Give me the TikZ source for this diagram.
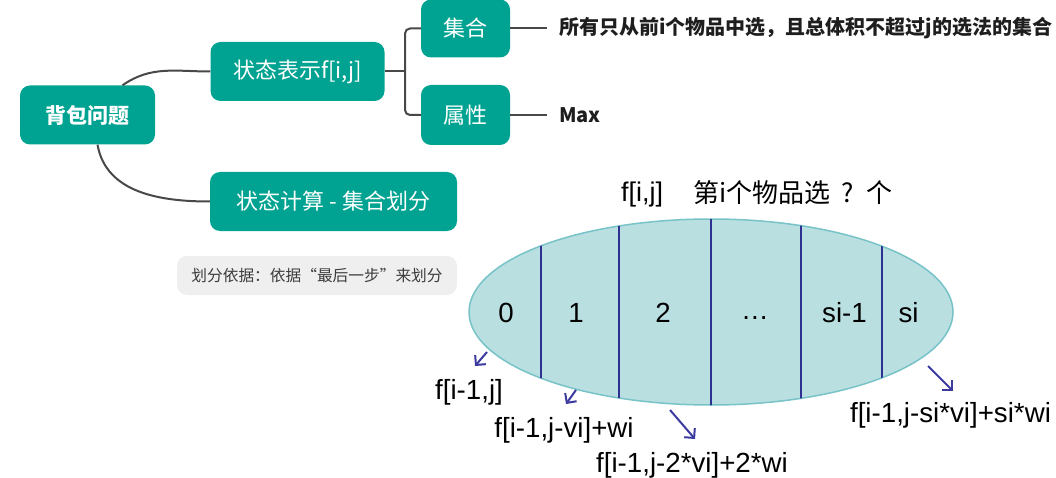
\documentclass[tikz,border=0pt]{standalone}
\usepackage{fontspec}
\setmainfont{Noto Sans CJK SC}
\newfontfamily\arialfont{Liberation Sans}
\usepackage{xcolor}
\usetikzlibrary{positioning, arrows.meta, shapes.geometric}
\definecolor{topicteal}{RGB}{0,163,145}
\definecolor{branchgray}{RGB}{72,72,72}
\definecolor{leafblack}{RGB}{30,30,30}
\definecolor{notegray}{RGB}{239,239,239}
\definecolor{notetext}{RGB}{60,60,60}
\definecolor{setfill}{RGB}{185,223,225}
\definecolor{setedge}{RGB}{120,195,200}
\definecolor{dividerblue}{RGB}{46,49,146}
\definecolor{pickblue}{RGB}{60,60,160}
\tikzset{
    topic/.style = {fill=topicteal, text=white, rounded corners=10pt, minimum height=59pt, inner xsep=0pt, font=\fontsize{22}{26}\selectfont},
    branch/.style = {draw=branchgray, line width=2pt},
    leaf/.style = {anchor=west, inner xsep=12pt, text=leafblack, font=\bfseries\fontsize{20}{24}\selectfont},
}
\tikzset{
    cell/.style = {anchor=base, font=\arialfont\fontsize{27.7}{32}\selectfont},
    result/.style = {font=\arialfont\fontsize{27.7}{32}\selectfont},
    divider/.style = {draw=dividerblue, line width=2pt},
    pick/.style = {draw=pickblue, line width=2pt, -{Straight Barb[length=7pt, width=14pt]}},
}

\begin{document}
\begin{tikzpicture}[x=1pt, y=-1pt]
    \useasboundingbox (0,0) rectangle (1056,478);

    \node[topic, minimum width=135pt, font=\bfseries\fontsize{21}{25}\selectfont] (bbwt) at (87.5,115) {背包问题};
    \node[topic, minimum width=174pt] (ztbs) at (297.5,71.5) {状态表示f[i,j]};
    \node[topic, minimum width=89pt, minimum height=58pt] (jh) at (465.5,28.5) {集合};
    \node[topic, minimum width=89pt, minimum height=60pt] (sx) at (465.5,115) {属性};
    \node[topic, minimum width=247pt] (ztjs) at (333.5,201.5) {状态计算 - 集合划分};

    \node[leaf] (jhtext) at (547,28.5) {所有只从前i个物品中选，且总体积不超过j的选法的集合};
    \node[leaf] (max) at (547,115) {Max};
    \coordinate (fork) at (405,71.5);

    \node[fill=notegray, rounded corners=10pt, minimum width=280pt, minimum height=39pt, text=notetext, font=\fontsize{15.7}{19}\selectfont] (basis) at (317,275.5) {划分依据：依据“最后一步”来划分};

    \draw[branch] ([xshift=35pt]bbwt.north) to[out=35, in=180] (ztbs.west);
    \draw[branch] ([xshift=10pt]bbwt.south) to[out=-80, in=180] (ztjs.west);
    \draw[branch] (ztbs.east) -- (fork);
    \draw[branch, rounded corners=5pt] (jh.west) -| (fork) |- (sx.west);
    \draw[branch] (jh.east) -- (jhtext.west);
    \draw[branch] (sx.east) -- (max.west);

    \draw[draw=setedge, fill=setfill, line width=1.5pt] (711,312) ellipse [x radius=242pt, y radius=93pt];
    \begin{scope}
        \clip (711,312) ellipse [x radius=242pt, y radius=93pt];
        \foreach \x in {541,619,711,801,882}
            \draw[divider] (\x,200) -- (\x,420);
    \end{scope}

    \node[font=\arialfont\fontsize{27}{32}\selectfont] (fij) at (642,194.5) {f[i,j]};
    \node[anchor=west, font=\fontsize{26}{30}\selectfont] (howmany) at (690,193) {第i个物品选\hspace{11pt}?\hspace{12pt}个};

    \node[cell] (c0) at (506,322) {0};
    \node[cell] (c1) at (576,322) {1};
    \node[cell] (c2) at (663,322) {2};
    \node[font=\arialfont\fontsize{27.7}{32}\selectfont] (cdots) at (755,318) {…};
    \node[cell] (csm1) at (844.5,322) {si-1};
    \node[cell] (cs) at (908.5,322) {si};

    \node[result] (r0) at (469,392) {f[i-1,j]};
    \node[result] (r1) at (564,430) {f[i-1,j-vi]+wi};
    \node[result] (r2) at (692,465) {f[i-1,j-2*vi]+2*wi};
    \node[result] (rs) at (950.5,415.5) {f[i-1,j-si*vi]+si*wi};

    \coordinate (p0) at (487,352);
    \coordinate (q0) at (475,366);
    \coordinate (p1) at (576,390);
    \coordinate (q1) at (566,404);
    \coordinate (p2) at (670,410);
    \coordinate (q2) at (695,439);
    \coordinate (ps) at (928,366);
    \coordinate (qs) at (953,391);
    \draw[pick] (p0) -- (q0);
    \draw[pick] (p1) -- (q1);
    \draw[pick] (p2) -- (q2);
    \draw[pick] (ps) -- (qs);
\end{tikzpicture}
\end{document}
